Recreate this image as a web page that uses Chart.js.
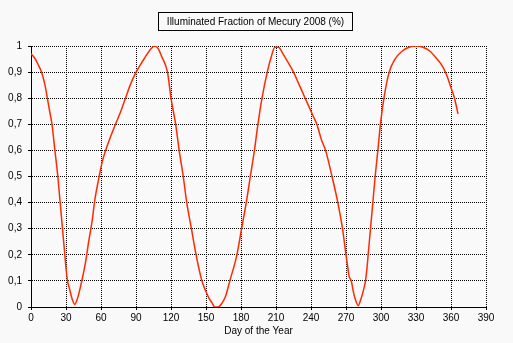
<!DOCTYPE html>
<html>
<head>
<meta charset="utf-8">
<script src="https://cdn.jsdelivr.net/npm/chart.js@4/dist/chart.umd.min.js"></script>
<style>
html,body{margin:0;padding:0;background:#f9f9f9;}
canvas{display:block;}
</style>
</head>
<body>
<canvas id="c" width="513" height="343"></canvas>
<script>
const chartTitle = "Illuminated Fraction of Mecury 2008 (%)";
const xAxisTitle = "Day of the Year";
const days = [0,3,6,9,12,14,16,18,20.5,23,25,27,29,30.2,31.3,33,35.3,37.5,40,42,44,46.7,49.6,52.4,54.7,58,61,64,68,72.4,77,81,85,89.5,94,98,102,106,109,112,117,120,124,127,130.5,133.5,137.5,141.5,146.5,149.6,152.4,155.3,157.5,160.5,163.7,166.7,170.4,176.5,180.5,184.5,188,191.5,194.5,198,202.5,206,209,212,216,220,225,230,235,240,242,245,249,252.5,258,263,267,270,271.5,272.5,274.5,276.7,278.7,280.4,282.4,284.7,286.7,288,289,291,293,295,297.3,299.5,302.5,307,312,318,324,330,336,342,348,353,357,360,363,366];
const fraction = [0.97,0.955,0.93,0.90,0.85,0.80,0.75,0.70,0.60,0.50,0.40,0.30,0.20,0.14,0.10,0.07,0.03,0.01,0.035,0.07,0.11,0.17,0.255,0.33,0.41,0.49,0.555,0.60,0.65,0.70,0.75,0.80,0.85,0.895,0.93,0.958,0.985,1.0,0.99,0.96,0.90,0.80,0.70,0.60,0.50,0.40,0.30,0.20,0.10,0.063,0.035,0.015,0.0,0.0,0.015,0.04,0.10,0.20,0.30,0.40,0.50,0.60,0.70,0.80,0.90,0.96,0.995,0.995,0.97,0.94,0.90,0.85,0.80,0.75,0.73,0.70,0.64,0.60,0.50,0.40,0.30,0.20,0.153,0.12,0.10,0.05,0.02,0.005,0.025,0.06,0.10,0.15,0.20,0.30,0.40,0.50,0.60,0.70,0.80,0.90,0.95,0.98,0.995,1.0,0.995,0.98,0.95,0.92,0.88,0.84,0.80,0.74];
const xTicks = [0,30,60,90,120,150,180,210,240,270,300,330,360,390];
const yTicks = [0,0.1,0.2,0.3,0.4,0.5,0.6,0.7,0.8,0.9,1];

const FONT = {family: "'Liberation Sans', Arial, sans-serif", size: 10};

const titleBox = {
  id: 'titleBox',
  afterDraw(chart) {
    const ctx = chart.ctx;
    ctx.save();
    ctx.font = "10px 'Liberation Sans', Arial, sans-serif";
    ctx.fillStyle = '#000';
    ctx.textAlign = 'center';
    ctx.textBaseline = 'alphabetic';
    ctx.fillText(chartTitle, 255.5, 25);
    ctx.strokeStyle = '#000';
    ctx.lineWidth = 1;
    ctx.strokeRect(158.5, 12.5, 194, 18);
    ctx.restore();
  }
};

new Chart(document.getElementById('c'), {
  type: 'line',
  data: {
    datasets: [{
      data: days.map((d, i) => ({x: d, y: fraction[i]})),
      borderColor: '#ff2a00',
      borderWidth: 1.5,
      pointRadius: 0,
      cubicInterpolationMode: 'monotone',
      fill: false
    }]
  },
  options: {
    responsive: false,
    animation: false,
    devicePixelRatio: 1,
    layout: {padding: {left: 0, top: 46, right: 27, bottom: 0}},
    plugins: {legend: {display: false}, tooltip: {enabled: false}, title: {display: false}},
    scales: {
      x: {
        type: 'linear',
        min: 0, max: 390,
        afterBuildTicks: s => { s.ticks = xTicks.map(v => ({value: v})); },
        afterFit: s => { s.height = 36; },
        ticks: {color: '#000', font: FONT, padding: 2, maxRotation: 0, autoSkip: false},
        grid: {color: '#000', lineWidth: 1, drawTicks: true, tickLength: 3, tickColor: '#000', tickBorderDash: []},
        border: {display: true, color: '#000', width: 1, dash: [1, 1]},
        title: {display: true, text: xAxisTitle, color: '#000', font: FONT, padding: {top: 0, bottom: 6}}
      },
      y: {
        type: 'linear',
        min: 0, max: 1,
        afterBuildTicks: s => { s.ticks = yTicks.map(v => ({value: v})); },
        afterFit: s => { s.width = 31; },
        ticks: {color: '#000', font: FONT, padding: 6, callback: v => String(Math.round(v * 10) / 10).replace('.', ',')},
        grid: {color: '#000', lineWidth: 1, drawTicks: true, tickLength: 3, tickColor: '#000', tickBorderDash: []},
        border: {display: true, color: '#000', width: 1, dash: [1, 1]}
      }
    }
  },
  plugins: [titleBox]
});
</script>
</body>
</html>
